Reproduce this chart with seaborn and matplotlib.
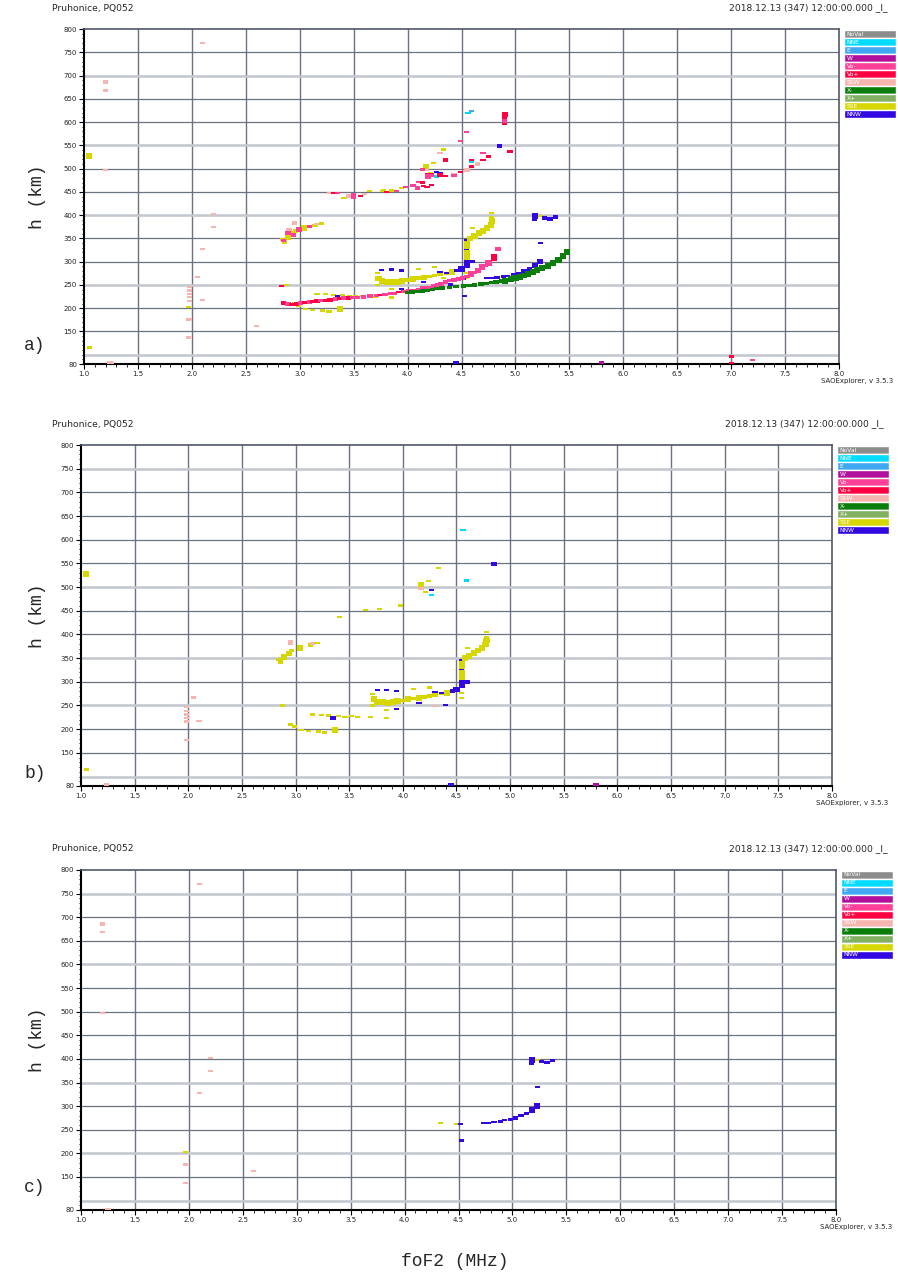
import matplotlib
matplotlib.use("Agg")
import matplotlib.pyplot as plt
from matplotlib.ticker import MultipleLocator
import numpy as np
import pandas as pd
import seaborn as sns

sns.set_theme(style="white")
plt.rcParams["font.family"] = ["DejaVu Sans"]

# ---------------------------------------------------------------- categories
directions = ["NoVal", "NNE", "E", "W", "Vo-", "Vo+", "SSW", "X-", "X+", "SSE", "NNW"]
direction_colors = ["#8c8c8c", "#00dcff", "#40a8f0", "#b0109c", "#ff4098", "#ff0040",
                    "#f7b5b0", "#0a7d0a", "#80b060", "#d6d600", "#3208e0"]

x_ticks = [1.0, 1.5, 2.0, 2.5, 3.0, 3.5, 4.0, 4.5, 5.0, 5.5, 6.0, 6.5, 7.0, 7.5, 8.0]
y_ticks = [80, 150, 200, 250, 300, 350, 400, 450, 500, 550, 600, 650, 700, 750, 800]

# ---------------------------------------------------------------- echoes
# each echo: (frequency MHz, virtual height km, direction, amplitude class)

# ordinary-mode echoes, low frequencies and scattered spread
ordinary_misc = [
    (1.05, 527, "SSE", "thick"), (1.05, 115, "SSE", "mid"), (1.24, 83, "SSW", "mid"),
    (1.98, 246, "SSW", "thin"), (1.98, 238, "SSW", "thin"), (1.98, 231, "SSW", "thin"),
    (1.98, 224, "SSW", "thin"), (1.98, 216, "SSW", "thin"), (1.98, 177, "SSW", "thin"),
    (2.05, 267, "SSW", "thin"), (2.10, 217, "SSW", "thin"),
    (4.45, 82, "NNW", "mid"), (5.80, 83, "W", "mid"), (5.80, 80, "W", "thin"),
]

# ordinary-mode second trace (upper)
ordinary_upper = [
    (2.84, 347, "SSE", "mid"), (2.86, 342, "SSE", "mid"), (2.89, 352, "SSE", "thick"),
    (2.94, 360, "SSE", "thick"), (2.96, 366, "SSE", "mid"), (2.95, 386, "SSW", "thin"),
    (2.95, 381, "SSW", "thin"), (3.04, 372, "SSE", "thick"), (3.14, 378, "SSE", "mid"),
    (3.16, 381, "SSW", "thin"), (3.20, 382, "SSE", "thin"), (3.41, 437, "SSE", "thin"),
    (3.65, 452, "SSE", "thin"), (3.78, 454, "SSE", "thin"), (3.98, 461, "SSE", "thin"),
    (4.17, 504, "SSE", "thick"), (4.17, 497, "SSW", "thin"), (4.24, 512, "SSE", "thin"),
    (4.21, 490, "SSE", "thin"), (4.27, 493, "NNW", "thin"), (4.27, 483, "NNE", "thin"),
    (4.33, 541, "SSE", "thin"), (4.56, 620, "NNE", "thin"), (4.59, 514, "NNE", "thin"),
    (4.85, 549, "NNW", "mid"),
]

# ordinary-mode F trace (lower) with the cusp near 4.55 MHz
ordinary_lower = [
    (2.88, 250, "SSE", "thin"), (2.95, 210, "SSE", "mid"), (2.99, 206, "SSE", "mid"),
    (3.05, 198, "SSE", "thin"), (3.12, 196, "SSE", "thin"), (3.16, 231, "SSE", "thin"),
    (3.21, 195, "SSE", "thin"), (3.24, 230, "SSE", "thin"), (3.27, 193, "SSE", "mid"),
    (3.31, 229, "SSE", "thin"), (3.35, 224, "NNW", "mid"), (3.37, 198, "SSE", "thick"),
    (3.40, 228, "SSE", "thin"), (3.46, 226, "SSE", "thin"), (3.52, 227, "SSE", "thin"),
    (3.58, 226, "SSE", "thin"), (3.70, 225, "SSE", "thin"), (3.72, 250, "SSE", "thin"),
    (3.72, 275, "SSE", "thin"), (3.73, 264, "SSE", "thick"), (3.76, 258, "SSE", "thick"),
    (3.81, 257, "SSE", "thick"), (3.86, 256, "SSE", "thick"), (3.91, 257, "SSE", "thick"),
    (3.95, 259, "SSE", "thick"), (4.00, 261, "SSE", "mid"), (4.05, 263, "SSE", "thick"),
    (4.10, 265, "SSE", "mid"), (4.15, 266, "SSE", "thick"), (4.20, 268, "SSE", "mid"),
    (4.25, 270, "SSE", "mid"), (4.30, 272, "SSE", "mid"), (4.36, 274, "SSE", "thin"),
    (4.41, 277, "SSE", "thick"), (4.46, 281, "NNW", "mid"), (4.50, 284, "NNW", "thick"),
    (3.76, 282, "NNW", "thin"), (3.85, 283, "NNW", "thin"), (3.94, 281, "NNW", "thin"),
    (3.94, 242, "NNW", "thin"), (3.85, 241, "SSE", "thin"), (3.85, 223, "SSE", "thin"),
    (4.15, 256, "NNW", "thin"), (4.30, 278, "NNW", "thin"), (4.36, 276, "NNW", "thin"),
    (4.40, 251, "NNW", "thin"), (4.30, 249, "SSW", "thin"), (4.10, 284, "SSE", "thin"),
    (4.25, 288, "SSE", "thin"),
    (4.55, 292, "NNW", "thick"), (4.55, 300, "NNW", "mid"), (4.55, 310, "SSE", "thick"),
    (4.55, 318, "SSE", "thick"), (4.55, 328, "NNW", "thin"), (4.55, 334, "SSE", "thick"),
    (4.55, 340, "SSE", "thick"), (4.55, 346, "NNW", "thin"), (4.55, 266, "SSE", "thin"),
    (4.55, 276, "SSE", "thin"), (4.60, 300, "NNW", "mid"), (4.60, 372, "SSE", "thin"),
    (4.58, 350, "SSE", "thick"), (4.62, 355, "SSE", "thick"), (4.66, 361, "SSE", "thick"),
    (4.70, 366, "SSE", "thick"), (4.74, 372, "SSE", "thick"), (4.77, 379, "SSE", "thick"),
    (4.78, 387, "SSE", "thick"), (4.78, 394, "SSE", "mid"), (4.78, 405, "SSE", "thin"),
]

# off-vertical scatter
ssw_scatter = [
    (1.20, 686, "SSW", "mid"), (1.20, 668, "SSW", "thin"), (1.20, 497, "SSW", "thin"),
    (1.25, 81, "SSW", "thin"), (2.10, 770, "SSW", "thin"), (1.97, 202, "SSE", "thin"),
    (1.97, 176, "SSW", "mid"), (1.97, 137, "SSW", "thin"), (2.10, 327, "SSW", "thin"),
    (2.20, 402, "SSW", "thin"), (2.20, 375, "SSW", "thin"), (2.60, 162, "SSW", "thin"),
]

# NNW oblique trace
nnw_trace = [
    (4.33, 264, "SSE", "thin"), (4.48, 262, "SSE", "thin"), (4.52, 262, "NNW", "thin"),
    (4.53, 227, "NNW", "thin"), (4.73, 264, "NNW", "thin"), (4.78, 265, "NNW", "thin"),
    (4.83, 266, "NNW", "thin"), (4.89, 268, "NNW", "mid"), (4.93, 270, "NNW", "thin"),
    (4.98, 272, "NNW", "mid"), (5.03, 275, "NNW", "mid"), (5.08, 280, "NNW", "mid"),
    (5.13, 284, "NNW", "mid"), (5.18, 292, "NNW", "thick"), (5.23, 300, "NNW", "thick"),
    (5.18, 398, "NNW", "thick"), (5.18, 389, "NNW", "thin"), (5.23, 398, "SSE", "thin"),
    (5.27, 394, "NNW", "mid"), (5.32, 392, "NNW", "mid"), (5.37, 396, "NNW", "mid"),
    (5.23, 340, "NNW", "thin"),
]

# vertical ordinary trace (Vo-/Vo+)
vo_lower = [
    (2.83, 247, "Vo+", "thin"), (2.85, 211, "Vo+", "mid"), (2.89, 209, "Vo-", "mid"),
    (2.93, 208, "Vo+", "mid"), (2.97, 209, "Vo+", "mid"), (3.01, 211, "Vo-", "mid"),
    (3.05, 212, "Vo+", "mid"), (3.09, 213, "Vo-", "mid"), (3.12, 214, "Vo+", "mid"),
    (3.16, 215, "Vo+", "mid"), (3.19, 216, "Vo-", "mid"), (3.24, 217, "Vo+", "mid"),
    (3.28, 218, "Vo+", "mid"), (3.33, 220, "Vo-", "mid"), (3.37, 221, "Vo+", "mid"),
    (3.41, 222, "Vo-", "mid"), (3.45, 222, "Vo+", "mid"), (3.49, 223, "Vo-", "mid"),
    (3.53, 223, "Vo-", "mid"), (3.59, 224, "Vo-", "mid"), (3.65, 226, "Vo-", "mid"),
    (3.71, 227, "Vo-", "mid"), (3.75, 228, "Vo+", "thin"), (3.79, 229, "Vo-", "mid"),
    (3.84, 231, "Vo-", "mid"), (3.88, 232, "Vo-", "mid"), (3.92, 234, "Vo+", "thin"),
    (3.96, 236, "Vo-", "mid"), (4.01, 237, "Vo-", "mid"), (4.05, 238, "Vo-", "mid"),
    (4.10, 240, "Vo-", "mid"), (4.14, 243, "Vo-", "mid"), (4.19, 245, "Vo-", "mid"),
    (4.24, 248, "Vo-", "mid"), (4.28, 250, "Vo-", "mid"), (4.31, 252, "Vo-", "mid"),
    (4.35, 256, "Vo-", "mid"), (4.39, 259, "Vo-", "mid"), (4.43, 261, "Vo-", "mid"),
    (4.47, 263, "Vo-", "mid"), (4.51, 265, "Vo-", "mid"), (4.55, 268, "Vo-", "mid"),
    (4.59, 273, "Vo-", "thick"), (4.62, 277, "Vo-", "mid"), (4.65, 281, "Vo-", "thick"),
    (4.69, 288, "Vo-", "thick"), (4.72, 292, "Vo-", "mid"), (4.75, 297, "Vo-", "thick"),
    (4.80, 308, "Vo+", "thick"), (4.80, 313, "Vo+", "mid"), (4.84, 327, "Vo-", "mid"),
]

# extraordinary trace (X-)
x_trace = [
    (4.00, 234, "X-", "mid"), (4.04, 235, "X-", "mid"), (4.09, 236, "X-", "mid"),
    (4.14, 237, "X-", "mid"), (4.18, 238, "X-", "mid"), (4.23, 240, "X-", "mid"),
    (4.27, 242, "X-", "mid"), (4.32, 243, "X-", "mid"), (4.39, 245, "X-", "mid"),
    (4.45, 246, "X-", "mid"), (4.52, 248, "X-", "mid"), (4.57, 249, "X-", "mid"),
    (4.62, 250, "X-", "mid"), (4.68, 252, "X-", "mid"), (4.73, 253, "X-", "mid"),
    (4.78, 255, "X-", "mid"), (4.82, 256, "X-", "mid"), (4.87, 258, "X-", "mid"),
    (4.90, 259, "X-", "thick"), (4.96, 262, "X-", "thick"), (5.00, 265, "X-", "thick"),
    (5.04, 267, "X-", "thick"), (5.08, 270, "X-", "thick"), (5.12, 274, "X-", "thick"),
    (5.16, 278, "X-", "thick"), (5.20, 282, "X-", "thick"), (5.25, 286, "X-", "thick"),
    (5.30, 291, "X-", "thick"), (5.35, 297, "X-", "thick"), (5.40, 304, "X-", "thick"),
    (5.44, 312, "X-", "thick"), (5.48, 321, "X-", "thick"),
]

# vertical echoes of the upper trace and spread above 400 km
vo_upper = [
    (2.85, 345, "Vo-", "mid"), (2.89, 362, "Vo-", "mid"), (2.90, 369, "SSW", "thin"),
    (2.94, 357, "Vo-", "mid"), (2.99, 369, "Vo-", "thick"), (3.09, 376, "Vo-", "mid"),
    (3.28, 448, "SSW", "thin"), (3.31, 448, "Vo+", "thin"), (3.35, 448, "Vo-", "thin"),
    (3.45, 441, "SSW", "mid"), (3.50, 446, "Vo-", "thin"), (3.50, 441, "Vo-", "mid"),
    (3.50, 436, "Vo-", "thin"), (3.56, 441, "Vo+", "thin"), (3.60, 445, "SSW", "thin"),
    (3.77, 451, "SSE", "thin"), (3.81, 449, "Vo+", "thin"), (3.85, 453, "SSE", "thin"),
    (3.90, 451, "Vo-", "thin"), (3.94, 459, "SSE", "thin"), (3.98, 460, "Vo-", "thin"),
    (4.05, 464, "Vo-", "mid"), (4.09, 458, "Vo-", "mid"), (4.10, 471, "Vo-", "thin"),
    (4.14, 470, "Vo+", "thin"), (4.15, 463, "Vo+", "thin"), (4.18, 460, "Vo+", "thin"),
    (4.22, 465, "Vo+", "thin"), (4.14, 498, "Vo-", "mid"), (4.19, 489, "Vo+", "thin"),
    (4.19, 485, "Vo-", "thin"), (4.19, 480, "Vo-", "thin"), (4.22, 489, "Vo+", "thin"),
    (4.22, 485, "Vo-", "thin"), (4.30, 491, "NNW", "thin"), (4.30, 488, "Vo+", "thin"),
    (4.30, 484, "Vo+", "thin"), (4.35, 484, "Vo+", "thin"), (4.35, 518, "Vo+", "mid"),
    (4.30, 534, "SSW", "thin"), (4.43, 489, "SSW", "thin"), (4.43, 485, "Vo-", "thin"),
    (4.49, 493, "Vo+", "thin"), (4.55, 497, "SSW", "mid"), (4.59, 505, "Vo+", "mid"),
    (4.59, 519, "Vo+", "thin"), (4.65, 510, "SSW", "mid"), (4.70, 519, "Vo+", "thin"),
    (4.75, 526, "Vo+", "mid"), (4.70, 534, "Vo-", "thin"), (4.49, 560, "Vo-", "thin"),
    (4.55, 579, "Vo-", "thin"), (4.59, 623, "E", "thin"), (4.90, 616, "Vo+", "thick"),
    (4.90, 609, "Vo+", "mid"), (4.90, 602, "Vo-", "mid"), (4.90, 596, "Vo+", "thin"),
    (4.95, 537, "Vo+", "mid"), (7.00, 96, "Vo+", "thin"), (7.00, 83, "Vo+", "thin"),
    (7.20, 88, "Vo-", "thin"),
]

panel_traces = {
    "a": ordinary_misc + ordinary_upper + ordinary_lower + ssw_scatter + nnw_trace
         + vo_upper + vo_lower + x_trace,
    "b": ordinary_misc + ordinary_upper + ordinary_lower,
    "c": ssw_scatter + nnw_trace,
}

# ---------------------------------------------------------------- layout
W, H = 898, 1276
fig = plt.figure(figsize=(W / 100, H / 100), dpi=100)
fig.patch.set_facecolor("white")


def box(x0, y0, x1, y1):
    return [x0 / W, 1 - y1 / H, (x1 - x0) / W, (y1 - y0) / H]


def fx(px):
    return px / W


def fy(py):
    return 1 - py / H


# pixel frames of the three ionogram panels: left, top, right, bottom
frames = {"a": (84, 29, 839, 364), "b": (81, 445, 832, 786), "c": (81, 870, 836, 1210)}
light_rows = {"a": [100, 250, 400, 550, 700],
              "b": [100, 250, 350, 500, 750],
              "c": [100, 200, 350, 600, 750]}
header_right = {"a": 888, "b": 884, "c": 888}
footer_right = {"a": 893, "b": 888, "c": 892}
panel_label_y = {"a": 345, "b": 773, "c": 1188}

grid_dark = "#6b7282"
grid_light = "#c4c8cf"
palette = dict(zip(directions, direction_colors))


def bar_marker(ratio):
    return [(-1, -ratio), (1, -ratio), (1, ratio), (-1, ratio), (-1, -ratio)]


marker_shapes = {"thin": bar_marker(0.42), "mid": bar_marker(0.64), "thick": bar_marker(0.92)}
marker_areas = {"thin": 14, "mid": 15, "thick": 20}
mono = ["Liberation Mono", "DejaVu Sans Mono"]

for key in ["a", "b", "c"]:
    x0, y0, x1, y1 = frames[key]
    ax = fig.add_axes(box(x0, y0, x1, y1))
    ax.set_facecolor("white")

    df = pd.DataFrame(panel_traces[key], columns=["freq", "height", "direction", "amp"])
    sns.scatterplot(data=df, x="freq", y="height", hue="direction", palette=palette,
                    style="amp", markers=marker_shapes, size="amp", sizes=marker_areas,
                    linewidth=0, legend=False, ax=ax, zorder=4)

    ax.set_xlim(1.0, 8.0)
    ax.set_ylim(80, 800)
    for v in np.arange(1.5, 8.0, 0.5):
        ax.axvline(v, color=grid_dark, lw=1.0, zorder=1)
    for hrow in range(100, 800, 50):
        if hrow in light_rows[key]:
            ax.axhline(hrow, color=grid_light, lw=1.9, zorder=1)
        else:
            ax.axhline(hrow, color=grid_dark, lw=0.9, zorder=1)

    ax.set_xticks(x_ticks)
    ax.set_xticklabels([f"{t:.1f}" for t in x_ticks], fontsize=5)
    ax.set_yticks(y_ticks)
    ax.set_yticklabels([str(t) for t in y_ticks], fontsize=5)
    ax.xaxis.set_minor_locator(MultipleLocator(0.1))
    ax.yaxis.set_minor_locator(MultipleLocator(10))
    ax.tick_params(which="both", bottom=True, left=True, top=False, right=False,
                   direction="out", color="black")
    ax.tick_params(which="major", length=3.5, width=0.8, pad=1.5, labelcolor="#222222")
    ax.tick_params(which="minor", length=1.8, width=0.6)
    ax.set_xlabel("")
    ax.set_ylabel("")
    for side in ["left", "bottom"]:
        ax.spines[side].set_color("black")
        ax.spines[side].set_linewidth(1.5)
    for side in ["top", "right"]:
        ax.spines[side].set_color("#505868")
        ax.spines[side].set_linewidth(1.2)
    for sp in ax.spines.values():
        sp.set_visible(True)

    # direction colour key
    lax = fig.add_axes(box(x1 + 5, y0 + 1, x1 + 57, y0 + 89))
    sns.barplot(x=[1] * len(directions), y=directions, hue=directions,
                palette=direction_colors, orient="h", width=1.0, saturation=1,
                legend=False, ax=lax)
    lax.set_xlim(0, 1)
    lax.axis("off")
    for i, name in enumerate(directions):
        lax.text(0.05, i, name, color="white", fontsize=4.3, va="center", ha="left")

    # station header, timestamp and software footer
    fig.text(fx(52), fy(y0 - 21), "Pruhonice, PQ052", fontsize=6.6, va="center", ha="left")
    fig.text(fx(header_right[key]), fy(y0 - 21), "2018.12.13 (347) 12:00:00.000 _I_",
             fontsize=6.6, va="center", ha="right")
    fig.text(fx(footer_right[key]), fy(y1 + 17), "SAOExplorer, v 3.5.3",
             fontsize=5, va="center", ha="right")
    fig.text(fx(24), fy(panel_label_y[key]), f"{key})", family=mono, fontsize=13,
             va="center", ha="left")
    fig.text(fx(38), fy((y0 + y1) / 2), "h (km)", family=mono, fontsize=13,
             rotation=90, va="center", ha="center")

fig.text(fx(455), fy(1262), "foF2 (MHz)", family=mono, fontsize=13, va="center", ha="center")

fig.savefig("out.png", dpi=100, facecolor="white")
